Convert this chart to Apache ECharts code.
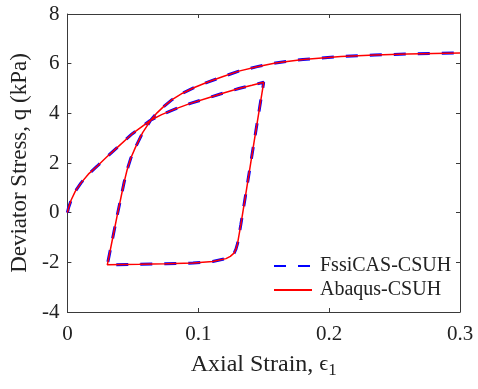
<!DOCTYPE html>
<html>
<head>
<meta charset="utf-8">
<script src="https://cdn.jsdelivr.net/npm/echarts@6/dist/echarts.min.js"></script>
<style>html,body{margin:0;padding:0;background:#fff;}#c{width:478px;height:389px;}</style>
</head>
<body>
<div id="c"></div>
<script>
// Axial strain path: initial loading, unloading, reloading
const strain = [0, 0.001, 0.0028, 0.006, 0.0103, 0.016, 0.0229, 0.030, 0.038, 0.0494, 0.0632, 0.072, 0.0821, 0.094, 0.1073, 0.12, 0.131, 0.141, 0.150,
  0.1425, 0.136, 0.1325, 0.130, 0.1288, 0.1275, 0.1245, 0.1212, 0.111, 0.096, 0.075, 0.055, 0.0305,
  0.0345, 0.038, 0.041, 0.0435, 0.0456, 0.0485, 0.0519, 0.0575, 0.0635, 0.0685, 0.0735, 0.080, 0.088, 0.097, 0.1073, 0.119, 0.131, 0.145, 0.159, 0.18, 0.209, 0.235, 0.26, 0.3];
const fssiStress = [0, 0.22, 0.50, 0.86, 1.19, 1.55, 1.88, 2.24, 2.62, 3.17, 3.71, 3.95, 4.17, 4.40, 4.62, 4.83, 5.00, 5.13, 5.25,
  2.80, 0.65, -0.49, -1.25, -1.47, -1.62, -1.76, -1.85, -1.97, -2.03, -2.06, -2.08, -2.10,
  -1.05, -0.13, 0.63, 1.26, 1.72, 2.20, 2.62, 3.22, 3.71, 4.02, 4.27, 4.55, 4.81, 5.04, 5.26, 5.48, 5.70, 5.88, 6.03, 6.17, 6.29, 6.35, 6.39, 6.43];
const abaqusStress = [0, 0.22, 0.50, 0.86, 1.19, 1.55, 1.88, 2.24, 2.62, 3.17, 3.71, 3.95, 4.17, 4.40, 4.62, 4.83, 5.00, 5.13, 5.25,
  2.80, 0.65, -0.49, -1.25, -1.47, -1.62, -1.76, -1.85, -1.97, -2.03, -2.06, -2.08, -2.10,
  -1.05, -0.13, 0.63, 1.26, 1.72, 2.20, 2.62, 3.22, 3.71, 4.02, 4.27, 4.55, 4.81, 5.04, 5.26, 5.48, 5.70, 5.88, 6.03, 6.17, 6.29, 6.35, 6.39, 6.43];
const xTicks = ['0', '0.1', '0.2', '0.3'];
const yTicks = ['-4', '-2', '0', '2', '4', '6', '8'];
const seriesNames = ['FssiCAS-CSUH', 'Abaqus-CSUH'];

const font = 'Liberation Serif';
const axisColor = '#3a3a3a';
const txt = '#222';
const chart = echarts.init(document.getElementById('c'), null, {renderer: 'canvas'});
const xLabel = v => { const i = Math.round(v * 10); return xTicks[i] !== undefined ? xTicks[i] : ''; };
const yLabel = v => { const i = Math.round((v + 4) / 2); return yTicks[i] !== undefined ? yTicks[i] : ''; };
const baseX = {
  type: 'value', min: 0, max: 0.3, interval: 0.1,
  axisLine: {show: true, onZero: false, lineStyle: {color: axisColor, width: 1}},
  axisTick: {show: true, inside: true, length: 4, lineStyle: {color: axisColor}},
  splitLine: {show: false}
};
const baseY = {
  type: 'value', min: -4, max: 8, interval: 2,
  axisLine: {show: true, onZero: false, lineStyle: {color: axisColor, width: 1}},
  axisTick: {show: true, inside: true, length: 4, lineStyle: {color: axisColor}},
  splitLine: {show: false}
};
chart.setOption({
  animation: false,
  backgroundColor: '#fff',
  grid: {left: 63, right: 18, top: 14, bottom: 77, containLabel: false},
  legend: {
    left: 268, top: 251, orient: 'vertical', itemWidth: 38, itemHeight: 14, itemGap: 4,
    itemStyle: {opacity: 0},
    textStyle: {fontFamily: font, fontSize: 20, color: txt, padding: [0, 0, 0, 3]},
    data: seriesNames
  },
  xAxis: [
    Object.assign({}, baseX, {
      position: 'bottom',
      axisLabel: {formatter: xLabel, fontFamily: font, fontSize: 21, color: txt, margin: 12},
      name: 'Axial Strain, {e|ϵ}{s|1}', nameLocation: 'middle', nameGap: 38,
      nameTextStyle: {fontFamily: font, fontSize: 24, color: txt,
        rich: {e: {fontFamily: font, fontSize: 22, color: txt}, s: {fontFamily: font, fontSize: 17, color: txt, verticalAlign: 'bottom', padding: [12, 0, 0, 0]}}}
    }),
    Object.assign({}, baseX, {position: 'top', axisLabel: {show: false}})
  ],
  yAxis: [
    Object.assign({}, baseY, {
      position: 'left',
      axisLabel: {formatter: yLabel, fontFamily: font, fontSize: 21, color: txt, margin: 8},
      name: 'Deviator Stress, q (kPa)', nameLocation: 'middle', nameGap: 30,
      nameTextStyle: {fontFamily: font, fontSize: 23, color: txt}
    }),
    Object.assign({}, baseY, {position: 'right', axisLabel: {show: false}})
  ],
  series: [
    {
      name: seriesNames[0], type: 'line', symbol: 'none', smooth: false,
      data: strain.map((x, i) => [x, fssiStress[i]]),
      lineStyle: {color: '#0000ff', width: 3, type: [12, 12]},
      itemStyle: {color: '#0000ff'}, z: 2
    },
    {
      name: seriesNames[1], type: 'line', symbol: 'none', smooth: false,
      data: strain.map((x, i) => [x, abaqusStress[i]]),
      lineStyle: {color: '#ff0000', width: 1.5},
      itemStyle: {color: '#ff0000'}, z: 3
    }
  ]
});
</script>
</body>
</html>
